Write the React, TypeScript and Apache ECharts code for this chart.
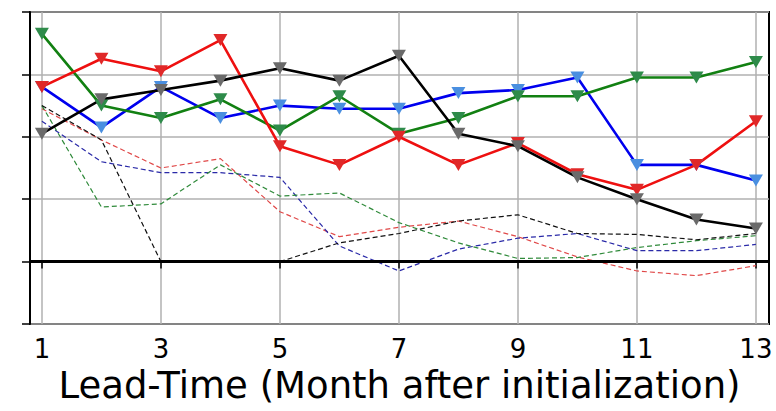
import React, { useEffect, useRef } from "react";
import * as echarts from "echarts";

const months = [1, 2, 3, 4, 5, 6, 7, 8, 9, 10, 11, 12, 13];
const xTicks = [1, 3, 5, 7, 9, 11, 13];

const redSolid = [0.56, 0.65, 0.61, 0.71, 0.37, 0.31, 0.4, 0.31, 0.38, 0.28, 0.23, 0.31, 0.45];
const blackSolid = [0.41, 0.52, 0.55, 0.58, 0.62, 0.58, 0.66, 0.41, 0.37, 0.27, 0.2, 0.135, 0.106];
const blueSolid = [0.56, 0.43, 0.56, 0.46, 0.5, 0.49, 0.49, 0.54, 0.55, 0.59, 0.31, 0.31, 0.26];
const greenSolid = [0.73, 0.5, 0.46, 0.52, 0.42, 0.53, 0.41, 0.46, 0.53, 0.53, 0.59, 0.59, 0.64];

const redDash = [0.49, 0.39, 0.3, 0.33, 0.16, 0.08, 0.11, 0.13, 0.08, 0.015, -0.03, -0.045, -0.013];
const blueDash = [0.45, 0.32, 0.285, 0.285, 0.27, 0.05, -0.03, 0.04, 0.075, 0.09, 0.035, 0.035, 0.055];
const greenDash = [0.5, 0.175, 0.185, 0.31, 0.21, 0.22, 0.125, 0.06, 0.01, 0.013, 0.045, 0.067, 0.083];
const blackDash = [0.5, 0.39, 0.0, null, 0.0, 0.06, 0.09, 0.13, 0.15, 0.09, 0.087, 0.07, 0.09];

const pair = (vals: (number | null)[]) => months.map((m, i) => [m, vals[i]]);

export default function App() {
  const ref = useRef<HTMLDivElement>(null);
  useEffect(() => {
    const chart = echarts.init(ref.current!, null, { renderer: "svg" });
    const font = "DejaVu Sans";
    const dashSeries = (name: string, vals: (number | null)[], color: string) => ({
      name,
      type: "line",
      data: pair(vals),
      showSymbol: false,
      symbol: "none",
      connectNulls: false,
      lineStyle: { color, width: 1.2, type: [5, 3] },
      z: 2,
    });
    const solidSeries = (name: string, vals: number[], color: string, mcolor: string) => ({
      name,
      type: "line",
      data: pair(vals),
      symbol: "triangle",
      symbolRotate: 180,
      symbolSize: [14, 12],
      lineStyle: { color, width: 2.6 },
      itemStyle: { color: mcolor },
      z: 4,
    });
    chart.setOption({
      animation: false,
      grid: {
        left: 30,
        top: 12,
        right: 7,
        bottom: 87,
        show: true,
        borderColor: "#000",
        borderWidth: 2,
        backgroundColor: "#fff",
      },
      xAxis: {
        type: "value",
        min: 0.8,
        max: 13.22,
        name: "Lead-Time (Month after initialization)",
        nameLocation: "middle",
        nameGap: 43,
        nameTextStyle: { fontFamily: font, fontSize: 37, color: "#000", verticalAlign: "top" },
        axisLine: { show: true, lineStyle: { color: "#000", width: 2 } },
        axisTick: { show: true, length: 7, customValues: xTicks, lineStyle: { color: "#000", width: 1.5 } },
        axisLabel: { customValues: xTicks, fontFamily: font, fontSize: 26, color: "#000", margin: 12 },
        splitLine: { show: true, lineStyle: { color: "#b0b0b0", width: 1.5 } },
      },
      yAxis: {
        type: "value",
        min: -0.2,
        max: 0.8,
        interval: 0.2,
        axisLine: { show: true, lineStyle: { color: "#000", width: 2 } },
        axisTick: { show: true, length: 8, lineStyle: { color: "#000", width: 1.5 } },
        axisLabel: { show: false },
        splitLine: { show: true, lineStyle: { color: "#b0b0b0", width: 1.5 } },
      },
      series: [
        {
          name: "zero",
          type: "line",
          data: [],
          markLine: {
            silent: true,
            symbol: "none",
            label: { show: false },
            lineStyle: { color: "#000", width: 3, type: "solid" },
            data: [{ yAxis: 0 }],
          },
          z: 3,
        },
        dashSeries("redDash", redDash, "#e04848"),
        dashSeries("blueDash", blueDash, "#2a2aa8"),
        dashSeries("greenDash", greenDash, "#2f8a3a"),
        dashSeries("blackDash", blackDash, "#111"),
        solidSeries("blue", blueSolid, "#0000ee", "#4a8fe0"),
        solidSeries("green", greenSolid, "#128012", "#2e8b4a"),
        solidSeries("red", redSolid, "#ee1010", "#e02828"),
        solidSeries("black", blackSolid, "#000", "#6a6a6a"),
      ],
    });
    return () => chart.dispose();
  }, []);
  return (
    <div
      ref={ref}
      style={{ position: "absolute", left: 0, top: 0, width: 776, height: 411 }}
    />
  );
}
